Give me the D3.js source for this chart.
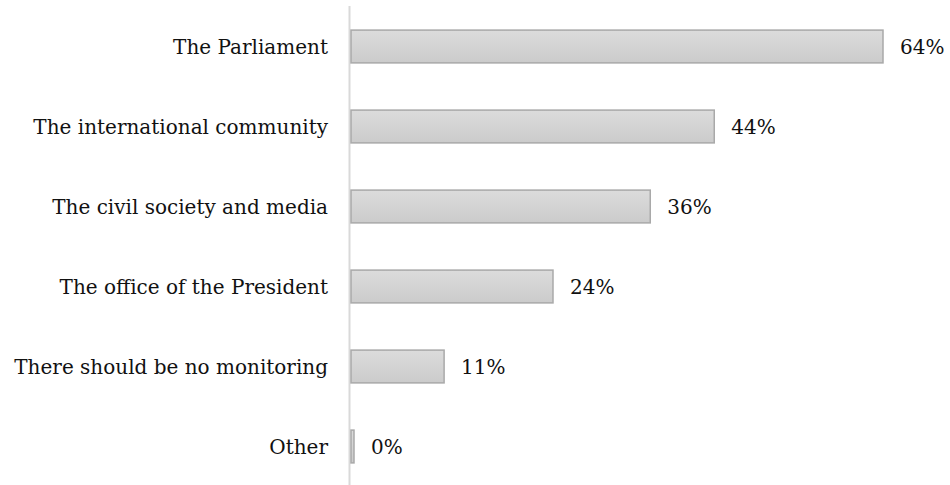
<!DOCTYPE html>
<html>
<head>
<meta charset="utf-8">
<script src="https://cdn.jsdelivr.net/npm/d3@7"></script>
<style>
  html, body { margin: 0; padding: 0; background: #fff; }
  svg text { font-family: "DejaVu Serif", serif; fill: #111; }
</style>
</head>
<body>
<svg id="chart" width="950" height="485"></svg>
<script>
const categories = [
  "The Parliament",
  "The international community",
  "The civil society and media",
  "The office of the President",
  "There should be no monitoring",
  "Other"
];
const values = [64.0, 43.7, 36.0, 24.3, 11.2, 0.3];
const valueLabels = ["64%", "44%", "36%", "24%", "11%", "0%"];

const svg = d3.select("#chart");
const x0 = 350.5;
const x = d3.scaleLinear().domain([0, 64]).range([x0 + 0.5, 883]);
const y = d3.scaleBand().domain(categories).range([6.5, 486.5]).paddingInner(0.59).paddingOuter(0.295);

const defs = svg.append("defs");
const grad = defs.append("linearGradient").attr("id", "barGrad")
  .attr("x1", 0).attr("y1", 0).attr("x2", 0).attr("y2", 1);
grad.append("stop").attr("offset", "0%").attr("stop-color", "#dcdcdc");
grad.append("stop").attr("offset", "100%").attr("stop-color", "#cbcbcb");

svg.append("line")
  .attr("x1", x0 - 1).attr("x2", x0 - 1)
  .attr("y1", 6).attr("y2", 485)
  .attr("stroke", "#d9d9d9").attr("stroke-width", 2);

const data = categories.map((c, i) => ({ c, v: values[i], l: valueLabels[i] }));

svg.selectAll("rect.bar").data(data).enter().append("rect")
  .attr("class", "bar")
  .attr("x", x(0))
  .attr("y", d => y(d.c))
  .attr("width", d => Math.max(x(d.v) - x(0), 3))
  .attr("height", y.bandwidth())
  .attr("fill", "url(#barGrad)")
  .attr("stroke", "#a9a9a9")
  .attr("stroke-width", 1.5);

svg.selectAll("text.cat").data(data).enter().append("text")
  .attr("class", "cat")
  .attr("x", 328)
  .attr("y", d => y(d.c) + y.bandwidth() / 2)
  .attr("dy", "0.35em")
  .attr("text-anchor", "end")
  .attr("font-size", 20)
  .text(d => d.c);

svg.selectAll("text.val").data(data).enter().append("text")
  .attr("class", "val")
  .attr("x", d => Math.max(x(d.v), x(0) + 3) + 17)
  .attr("y", d => y(d.c) + y.bandwidth() / 2)
  .attr("dy", "0.35em")
  .attr("font-size", 20)
  .text(d => d.l);
</script>
</body>
</html>
